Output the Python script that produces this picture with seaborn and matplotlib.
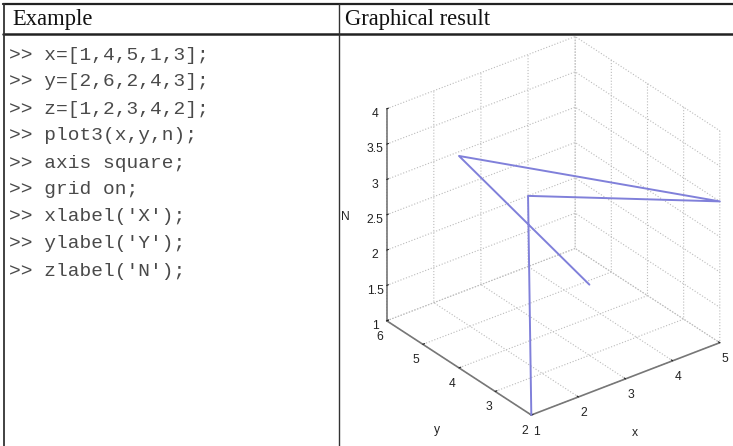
import numpy as np
import pandas as pd
import seaborn as sns
import matplotlib
matplotlib.use("Agg")
import matplotlib.pyplot as plt
from matplotlib.lines import Line2D

# ---- data ----
x_vals = [1, 4, 5, 1, 3]
y_vals = [2, 6, 2, 4, 3]
z_vals = [1, 2, 3, 4, 2]
x_ticks = [1, 2, 3, 4, 5]
y_ticks = [2, 3, 4, 5, 6]
z_ticks = [1, 1.5, 2, 2.5, 3, 3.5, 4]
z_ticklabels = ["1", "1.5", "2", "2.5", "3", "3.5", "4"]
axis_labels = ["x", "y", "N"]
code_lines = [">> x=[1,4,5,1,3];", ">> y=[2,6,2,4,3];", ">> z=[1,2,3,4,2];",
              ">> plot3(x,y,n);", ">> axis square;", ">> grid on;",
              ">> xlabel('X');", ">> ylabel('Y');", ">> zlabel('N');"]
headers = ["Example", "Graphical result"]

sns.set_style("white")
plt.rcParams['font.family'] = ['Liberation Sans', 'DejaVu Sans']

W, H = 733, 446
fig = plt.figure(figsize=(W / 100, H / 100), dpi=100)

def fx(p):
    return p / W

def fy(p):
    return 1 - p / H

# table lines
fig.add_artist(Line2D([fx(3), fx(733)], [fy(4), fy(4)], color="#222222", lw=1.6, transform=fig.transFigure))
fig.add_artist(Line2D([fx(3), fx(733)], [fy(34), fy(34)], color="#222222", lw=1.8, transform=fig.transFigure))
fig.add_artist(Line2D([fx(4), fx(4)], [fy(4), fy(446)], color="#333333", lw=1.3, transform=fig.transFigure))
fig.add_artist(Line2D([fx(339), fx(339)], [fy(4), fy(446)], color="#333333", lw=1.0, transform=fig.transFigure))

fig.text(fx(12), fy(19), headers[0], family="Liberation Serif", fontsize=16.3, va="center", ha="left", color="#111111")
fig.text(fx(345), fy(19), headers[1], family="Liberation Serif", fontsize=16.3, va="center", ha="left", color="#111111")

for i, line in enumerate(code_lines):
    fig.text(fx(9), fy(55 + 27 * i), line, family="Liberation Mono", fontsize=14,
             va="center", ha="left", color="#4a4a4a")

# 3D axes
ax = fig.add_axes([fx(354), 12 / H, fx(388), 1 - 40 / H], projection="3d")
ax.set_proj_type("ortho")
ax.view_init(elev=30, azim=-127.5)
ax.set_box_aspect((1, 1, 1.03), zoom=1.04)

df = pd.DataFrame({"x": x_vals, "y": y_vals, "z": z_vals})
color = sns.color_palette(["#8080da"])[0]
ax.plot(df["x"], df["y"], df["z"], color=color, lw=1.4)

ax.set_xlim(1, 5)
ax.set_ylim(2, 6)
ax.set_zlim(1, 4)
ax.set_xticks(x_ticks)
ax.set_yticks(y_ticks)
ax.set_zticks(z_ticks)
ax.set_zticklabels(z_ticklabels)

for axis in (ax.xaxis, ax.yaxis, ax.zaxis):
    axis.set_pane_color((1, 1, 1, 0))
    axis.pane.set_edgecolor("none")
    axis.line.set_color("#777777")
    axis.line.set_linewidth(1.2)
    axis._axinfo["grid"].update({"color": "#bbbbbb", "linestyle": ":", "linewidth": 0.8})
    axis._axinfo["tick"].update({"inward_factor": 0.0, "outward_factor": 0.12})
ax.tick_params(labelsize=8.7, colors="#222222", pad=-3)
ax.grid(True)

# axis labels placed like MATLAB
fig.text(fx(635), fy(433), axis_labels[0], fontsize=8.7, ha="center", va="center", color="#222222")
fig.text(fx(437), fy(430), axis_labels[1], fontsize=8.7, ha="center", va="center", color="#222222")
fig.text(fx(345), fy(217), axis_labels[2], fontsize=8.7, ha="center", va="center", color="#222222")

fig.savefig("out.png", dpi=100)
